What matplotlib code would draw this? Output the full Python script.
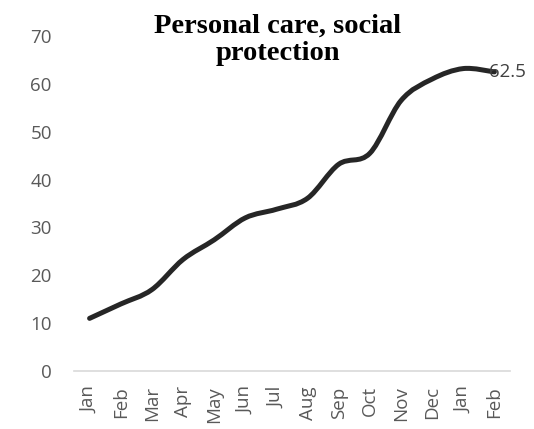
import numpy as np
import matplotlib
matplotlib.use("Agg")
import matplotlib.pyplot as plt
from matplotlib.path import Path
from matplotlib.patches import PathPatch

months = ["Jan", "Feb", "Mar", "Apr", "May", "Jun", "Jul",
          "Aug", "Sep", "Oct", "Nov", "Dec", "Jan", "Feb"]
values = [11.0, 14.0, 17.0, 23.3, 27.4, 32.0, 33.8,
          36.1, 43.2, 45.5, 56.5, 61.0, 63.2, 62.5]
last_label = "62.5"


def smooth_path(x, y, t=1.0 / 6):
    # Catmull-Rom style bezier through every point (like a smoothed office line)
    x = np.asarray(x, float)
    y = np.asarray(y, float)
    verts = [(x[0], y[0])]
    codes = [Path.MOVETO]
    n = len(x)
    for i in range(n - 1):
        p0 = i - 1 if i > 0 else i
        p3 = i + 2 if i + 2 < n else i + 1
        c1 = (x[i] + (x[i + 1] - x[p0]) * t, y[i] + (y[i + 1] - y[p0]) * t)
        c2 = (x[i + 1] - (x[p3] - x[i]) * t, y[i + 1] - (y[p3] - y[i]) * t)
        verts += [c1, c2, (x[i + 1], y[i + 1])]
        codes += [Path.CURVE4] * 3
    return Path(verts, codes)


fig = plt.figure(figsize=(5.34, 4.29), dpi=100)
ax = fig.add_axes([0.1386, 0.1352, 0.8164, 0.7808])

xs = np.arange(len(months))
patch = PathPatch(smooth_path(xs, values), facecolor="none", edgecolor="#262626",
                  linewidth=3.6, capstyle="round", joinstyle="round")
ax.add_patch(patch)

ax.set_xlim(-0.5, len(months) - 0.5)
ax.set_ylim(0, 70)
ax.set_yticks(np.arange(0, 71, 10))
ax.set_xticks(xs)
ax.set_xticklabels(months, rotation=90)

for s in ["top", "right", "left"]:
    ax.spines[s].set_visible(False)
ax.spines["bottom"].set_color("#d9d9d9")
ax.spines["bottom"].set_linewidth(1.2)
ax.tick_params(axis="both", length=0, colors="#595959", labelsize=13.5)
ax.tick_params(axis="y", pad=16)
ax.tick_params(axis="x", pad=11)
for lab in ax.get_xticklabels() + ax.get_yticklabels():
    lab.set_family("Open Sans")

ax.annotate(last_label, (xs[-1], values[-1]), xytext=(-3.6, 0), textcoords="offset points",
            ha="left", va="center", fontsize=13.5, color="#404040", family="Open Sans")

fig.text(0.52, 0.907, "Personal care, social\nprotection", ha="center", va="center",
         fontsize=20.5, fontweight="bold", family="Liberation Serif", linespacing=1.15)

fig.savefig("out.png", dpi=100)
